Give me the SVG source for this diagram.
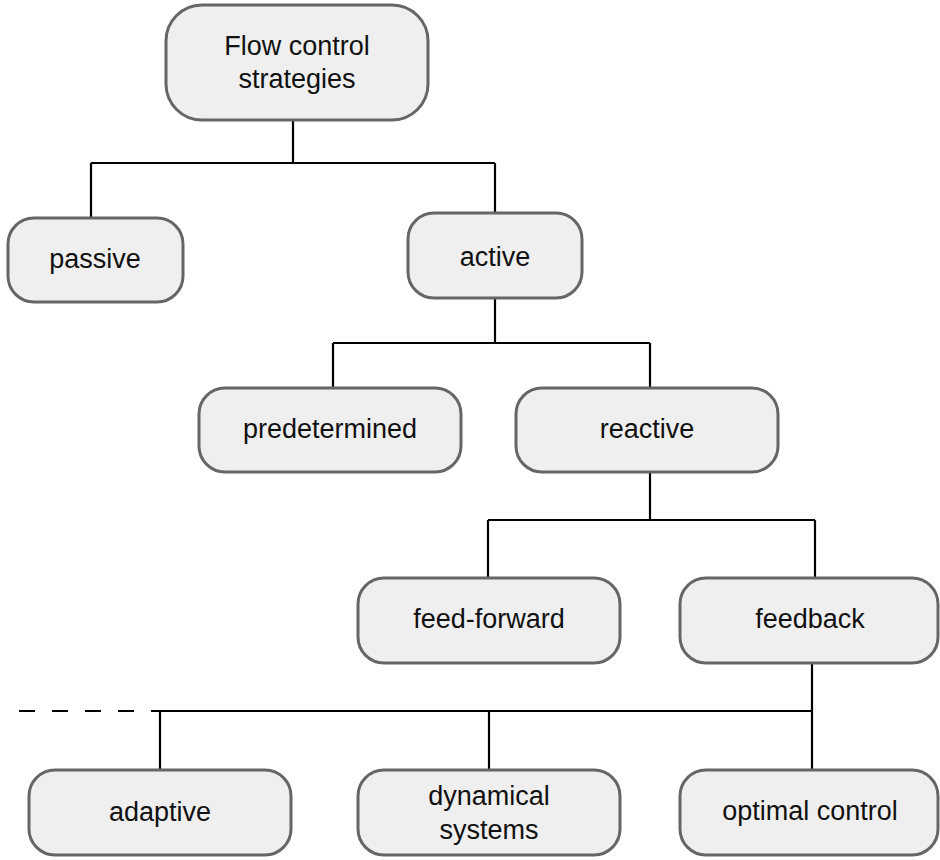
<svg xmlns="http://www.w3.org/2000/svg" width="940" height="860" viewBox="0 0 940 860">
<style>
.box{fill:#efefef;stroke:#666;stroke-width:3}
.lbl{font-family:"Liberation Sans",Arial,sans-serif;font-size:27px;fill:#111;text-anchor:middle}
.con{fill:none;stroke:#000;stroke-width:2.2}
</style>
<rect width="940" height="860" fill="#fff"/>
<g id="connectors">
<path class="con" d="M293 120V163M91 163H495M91 163V218M495 163V213"/>
<path class="con" d="M495 298V343M333 343H650M333 343V388M650 343V388"/>
<path class="con" d="M650 472V520M488 520H815M488 520V578M815 520V578"/>
<path class="con" d="M812 663V711M158 711H812M160 711V770M489 711V770M812 711V770"/>
<path class="con" stroke-dasharray="16,17" d="M19 711H158"/>
</g>
<g id="root"><rect class="box" x="166" y="5" width="262" height="115" rx="36"/><text class="lbl" x="297" y="55">Flow control</text><text class="lbl" x="297" y="88">strategies</text></g>
<g id="passive"><rect class="box" x="8" y="218" width="175" height="84" rx="26"/><text class="lbl" x="95" y="268">passive</text></g>
<g id="active"><rect class="box" x="408" y="213" width="174" height="85" rx="26"/><text class="lbl" x="495" y="266">active</text></g>
<g id="predetermined"><rect class="box" x="199" y="388" width="262" height="84" rx="26"/><text class="lbl" x="330" y="438">predetermined</text></g>
<g id="reactive"><rect class="box" x="516" y="388" width="262" height="84" rx="26"/><text class="lbl" x="647" y="438">reactive</text></g>
<g id="feedforward"><rect class="box" x="358" y="578" width="262" height="85" rx="26"/><text class="lbl" x="489" y="628">feed-forward</text></g>
<g id="feedback"><rect class="box" x="680" y="578" width="258" height="85" rx="26"/><text class="lbl" x="810" y="628">feedback</text></g>
<g id="adaptive"><rect class="box" x="29" y="770" width="262" height="85" rx="26"/><text class="lbl" x="160" y="821">adaptive</text></g>
<g id="dynamical"><rect class="box" x="358" y="770" width="262" height="85" rx="26"/><text class="lbl" x="489" y="805">dynamical</text><text class="lbl" x="489" y="839">systems</text></g>
<g id="optimal"><rect class="box" x="680" y="770" width="258" height="85" rx="26"/><text class="lbl" x="810" y="820">optimal control</text></g>
</svg>
